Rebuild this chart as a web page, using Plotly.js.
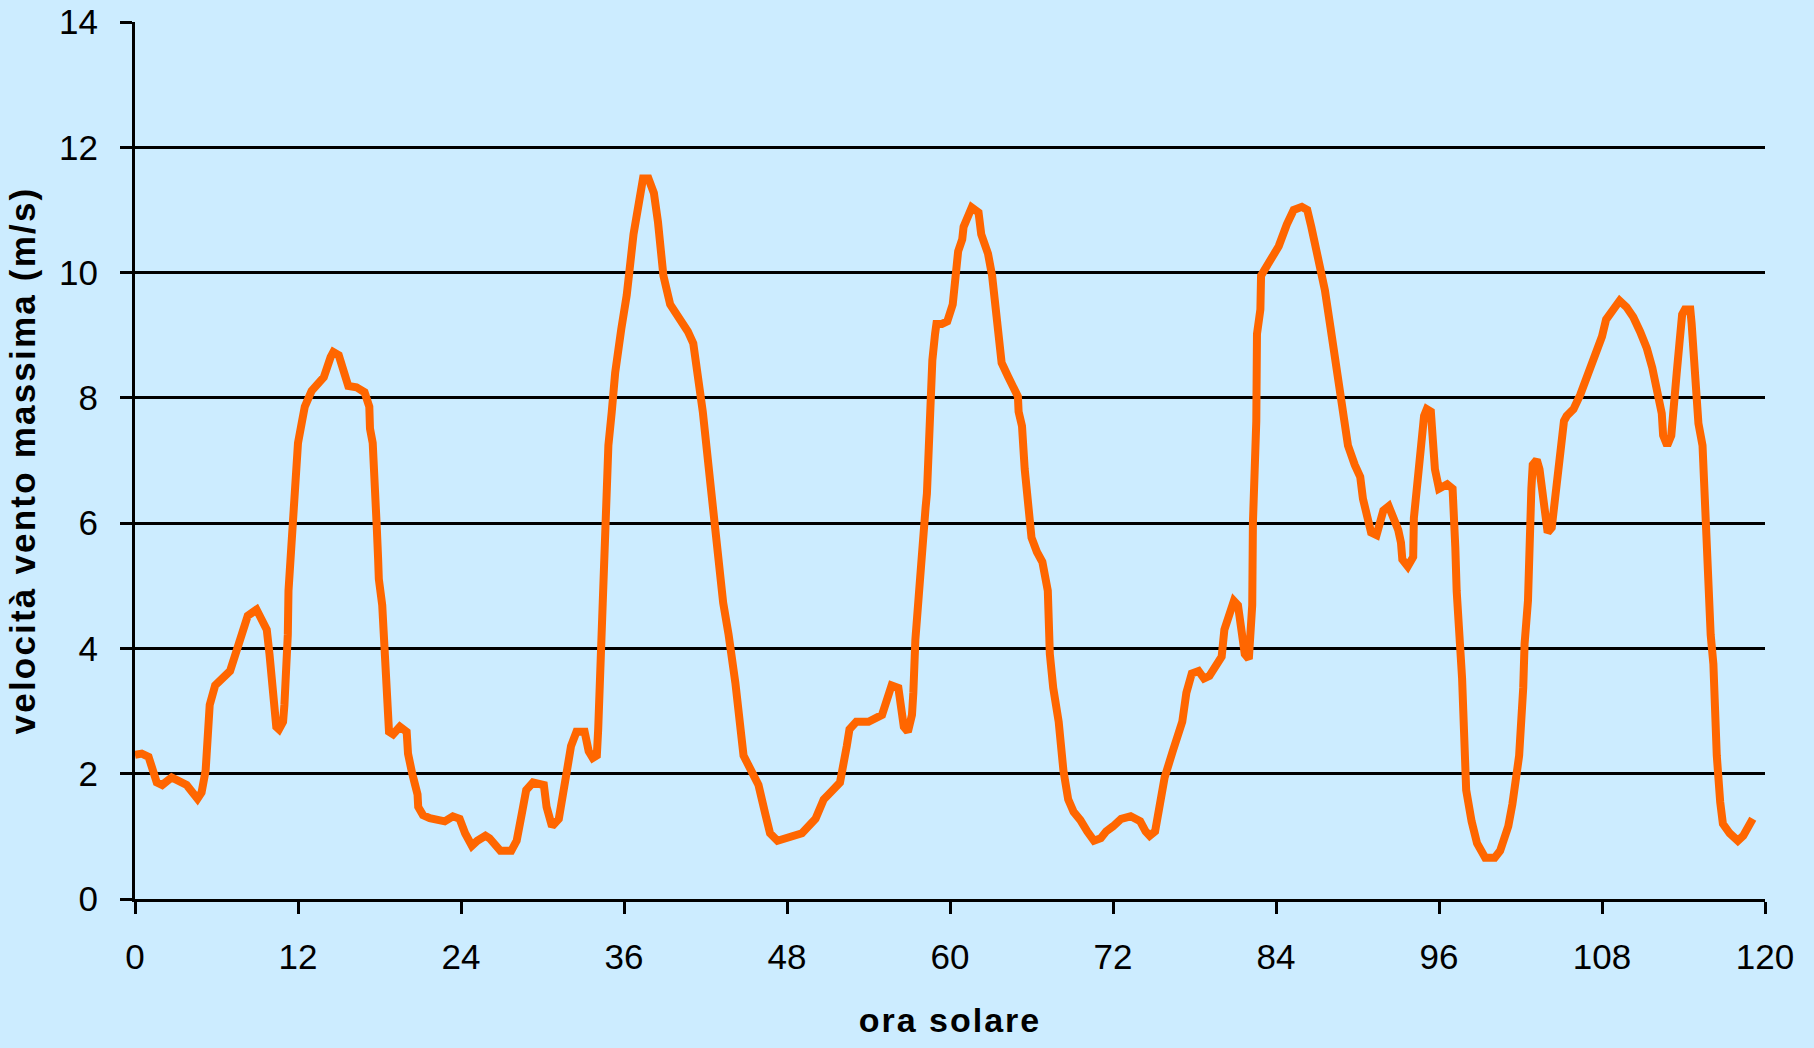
<!DOCTYPE html>
<html>
<head>
<meta charset="utf-8">
<script src="https://cdn.plot.ly/plotly-3.0.1.min.js"></script>
<style>
  html, body { margin: 0; padding: 0; background: #CCECFF; }
  #chart { width: 1814px; height: 1048px; }
  .xtitle { letter-spacing: 2px; }
  .ytitle { letter-spacing: 2.2px; }
</style>
</head>
<body>
<div id="chart"></div>
<script>
// ora solare (hours)
const hours = [
  0, 0.5, 1.0, 1.6, 2.0, 2.7, 3.8, 4.2, 4.6, 4.9, 5.2, 5.5, 5.9, 7.0, 7.85, 8.3, 8.95, 9.7, 9.9, 10.05,
  10.2, 10.4, 10.6, 10.9, 11.0, 11.15, 11.25, 11.3, 11.5, 11.75, 11.8, 12.0, 12.3, 12.5, 13.0, 13.9, 14.4, 14.6, 15.0, 15.7,
  16.3, 16.9, 17.25, 17.3, 17.5, 17.55, 17.8, 17.9, 17.95, 18.2, 18.4, 18.65, 18.7, 19.0, 19.5, 20.0, 20.1, 20.4, 20.8, 20.85,
  21.2, 21.7, 22.8, 23.4, 23.9, 24.3, 24.8, 25.2, 25.8, 26.1, 26.5, 26.9, 27.7, 28.1, 28.5, 28.8, 29.3, 30.1, 30.3, 30.7,
  31.2, 31.5, 31.8, 32.1, 32.5, 33.1, 33.4, 33.7, 34.0, 34.1, 34.2, 34.35, 34.4, 34.6, 34.85, 35.1, 35.35, 35.8, 36.2, 36.7,
  37.1, 37.4, 37.8, 38.2, 38.5, 38.7, 38.9, 39.4, 40.0, 40.7, 41.1, 41.8, 42.4, 42.8, 43.3, 43.7, 44.2, 44.8, 45.3, 45.9,
  46.4, 46.75, 47.3, 48.0, 49.1, 50.1, 50.7, 51.2, 51.9, 52.4, 52.6, 53.1, 54.0, 55.0, 55.3, 55.7, 56.2, 56.4, 56.6, 56.9,
  57.2, 57.3, 57.35, 57.45, 57.7, 57.8, 57.85, 58.2, 58.3, 58.35, 58.5, 58.7, 58.9, 59.0, 59.4, 59.8, 60.2, 60.5, 60.6, 60.9,
  61.0, 61.6, 62.1, 62.3, 62.8, 63.1, 63.6, 63.8, 64.3, 65.0, 65.05, 65.3, 65.5, 65.8, 66.0, 66.4, 66.8, 67.2, 67.35, 67.6,
  68.0, 68.35, 68.7, 69.1, 69.6, 70.1, 70.6, 71.1, 71.5, 72.0, 72.6, 73.3, 74.0, 74.4, 74.7, 75.1, 75.5, 75.8, 76.4, 77.1,
  77.4, 77.8, 78.3, 78.7, 79.1, 79.6, 80.0, 80.2, 80.5, 80.9, 81.2, 81.4, 81.7, 82.0, 82.1, 82.25, 82.3, 82.55, 82.6, 82.85,
  82.9, 83.3, 83.8, 84.2, 84.8, 85.3, 85.9, 86.3, 86.6, 87.1, 87.6, 88.0, 88.6, 89.0, 89.3, 89.8, 90.2, 90.4, 90.7, 91.0,
  91.4, 91.7, 91.9, 92.3, 92.7, 93.0, 93.2, 93.3, 93.7, 94.1, 94.15, 94.4, 94.7, 94.9, 95.1, 95.4, 95.7, 96.0, 96.6, 97.0,
  97.2, 97.3, 97.7, 97.8, 98.0, 98.4, 98.8, 99.4, 100.1, 100.5, 101.1, 101.4, 101.9, 102.2, 102.3, 102.55, 102.6, 102.8, 102.9, 103.2,
  103.4, 103.6, 103.8, 104.0, 104.3, 104.5, 104.7, 104.9, 105.0, 105.2, 105.4, 105.9, 106.4, 107.0, 107.5, 108.0, 108.3, 108.8, 109.3, 109.8,
  110.3, 110.8, 111.3, 111.7, 112.0, 112.4, 112.5, 112.8, 113.1, 113.25, 113.45, 113.5, 113.7, 113.9, 114.1, 114.5, 114.6, 114.7, 115.0, 115.05,
  115.1, 115.4, 115.6, 115.95, 116.0, 116.2, 116.3, 116.45, 116.7, 116.9, 117.4, 118.0, 118.4, 119.1
];

// velocità vento massima (m/s)
const windMax = [
  2.30, 2.32, 2.27, 1.86, 1.82, 1.94, 1.82, 1.70, 1.60, 1.70, 2.05, 3.10, 3.41, 3.64, 4.26, 4.52, 4.62, 4.30, 3.91, 3.60,
  3.06, 2.75, 2.71, 2.83, 3.10, 3.60, 4.22, 4.92, 5.77, 6.55, 6.86, 7.28, 7.63, 7.86, 8.11, 8.33, 8.65, 8.73, 8.68, 8.19,
  8.17, 8.09, 7.86, 7.51, 7.28, 6.86, 5.93, 5.42, 5.11, 4.69, 3.91, 3.14, 2.67, 2.63, 2.75, 2.67, 2.32, 2.01, 1.67, 1.47,
  1.34, 1.29, 1.24, 1.32, 1.28, 1.05, 0.85, 0.93, 1.01, 0.97, 0.89, 0.77, 0.77, 0.93, 1.39, 1.74, 1.86, 1.82, 1.47, 1.16,
  1.28, 1.78, 2.05, 2.44, 2.67, 2.67, 2.36, 2.25, 2.29, 2.71, 3.37, 4.07, 4.92, 6.00, 7.24, 7.78, 8.40, 9.10, 9.64, 10.61,
  11.19, 11.50, 11.50, 11.27, 10.81, 10.19, 9.95, 9.49, 9.30, 9.06, 8.87, 7.78, 6.55, 5.62, 4.73, 4.22, 3.45, 2.29, 2.05, 1.82,
  1.36, 1.05, 0.93, 0.97, 1.05, 1.28, 1.59, 1.70, 1.86, 2.44, 2.71, 2.83, 2.83, 2.94, 3.14, 3.41, 3.37, 3.06, 2.75, 2.67,
  2.94, 3.29, 3.68, 4.14, 4.84, 5.15, 5.58, 6.24, 6.47, 6.86, 8.17, 8.60, 9.02, 9.18, 9.18, 9.22, 9.49, 10.03, 10.34, 10.53,
  10.73, 11.04, 10.96, 10.61, 10.30, 9.95, 9.10, 8.56, 8.33, 8.02, 7.78, 7.55, 6.86, 6.08, 5.77, 5.54, 5.38, 4.92, 3.91, 3.37,
  2.83, 2.05, 1.59, 1.39, 1.26, 1.08, 0.93, 0.97, 1.08, 1.16, 1.28, 1.32, 1.24, 1.08, 1.01, 1.08, 1.51, 1.94, 2.36, 2.83,
  3.29, 3.60, 3.64, 3.52, 3.56, 3.72, 3.87, 4.30, 4.53, 4.76, 4.69, 4.42, 3.91, 3.83, 4.22, 4.69, 6.00, 7.63, 9.02, 9.41,
  9.95, 10.11, 10.26, 10.42, 10.77, 11.00, 11.05, 11.00, 10.73, 10.26, 9.72, 9.14, 8.25, 7.78, 7.24, 6.93, 6.74, 6.39, 6.04, 5.85,
  5.81, 6.00, 6.20, 6.27, 6.08, 5.89, 5.69, 5.42, 5.31, 5.46, 6.08, 6.62, 7.16, 7.71, 7.82, 7.78, 6.86, 6.55, 6.62, 6.55,
  5.62, 4.92, 3.52, 2.83, 1.74, 1.24, 0.89, 0.66, 0.66, 0.77, 1.16, 1.51, 2.29, 3.37, 4.07, 4.76, 5.54, 6.55, 6.93, 7.01,
  6.86, 6.55, 6.16, 5.85, 5.93, 6.31, 6.62, 6.93, 7.32, 7.63, 7.71, 7.82, 8.05, 8.40, 8.71, 8.98, 9.25, 9.41, 9.55, 9.45,
  9.29, 9.06, 8.79, 8.48, 8.17, 7.75, 7.40, 7.24, 7.40, 7.71, 8.02, 8.40, 8.87, 9.33, 9.41, 9.41, 9.18, 8.87, 8.33, 7.94,
  7.59, 7.24, 6.08, 4.65, 4.22, 3.75, 2.98, 2.29, 1.55, 1.20, 1.05, 0.93, 1.01, 1.28
];

const xTicks = [0, 12, 24, 36, 48, 60, 72, 84, 96, 108, 120];
const yTicks = [0, 2, 4, 6, 8, 10, 12, 14];

const trace = {
  x: hours,
  y: windMax,
  type: 'scatter',
  mode: 'lines',
  line: { color: '#FF6600', width: 8, shape: 'linear' },
  hoverinfo: 'x+y'
};

const fontFam = '"Liberation Sans", Arial, Helvetica, sans-serif';

const layout = {
  width: 1814,
  height: 1048,
  paper_bgcolor: '#CCECFF',
  plot_bgcolor: '#CCECFF',
  showlegend: false,
  margin: { l: 135, r: 49, t: 22, b: 149, pad: 0 },
  font: { family: fontFam, color: '#000000' },
  xaxis: {
    range: [0, 120],
    tickmode: 'array',
    tickvals: xTicks,
    ticktext: xTicks.map(String),
    ticks: 'outside',
    ticklen: 12,
    tickwidth: 3,
    tickcolor: '#000000',
    ticklabelstandoff: 13,
    showline: true,
    linewidth: 3,
    linecolor: '#000000',
    showgrid: false,
    zeroline: false,
    automargin: false,
    tickfont: { family: fontFam, size: 35, color: '#000000' },
    title: { text: 'ora solare', font: { family: fontFam, size: 34, weight: 'bold', color: '#000000' }, standoff: 34 }
  },
  yaxis: {
    range: [0, 14],
    tickmode: 'array',
    tickvals: yTicks,
    ticktext: yTicks.map(String),
    ticks: 'outside',
    ticklen: 12,
    tickwidth: 3,
    tickcolor: '#000000',
    ticklabelstandoff: 15,
    showline: true,
    linewidth: 3,
    linecolor: '#000000',
    showgrid: true,
    gridcolor: '#000000',
    gridwidth: 3,
    zeroline: false,
    automargin: false,
    tickfont: { family: fontFam, size: 35, color: '#000000' },
    title: { text: 'velocità vento massima (m/s)', font: { family: fontFam, size: 35, weight: 'bold', color: '#000000' }, standoff: 13 }
  }
};

Plotly.newPlot('chart', [trace], layout, { displayModeBar: false, staticPlot: true });
</script>
</body>
</html>
